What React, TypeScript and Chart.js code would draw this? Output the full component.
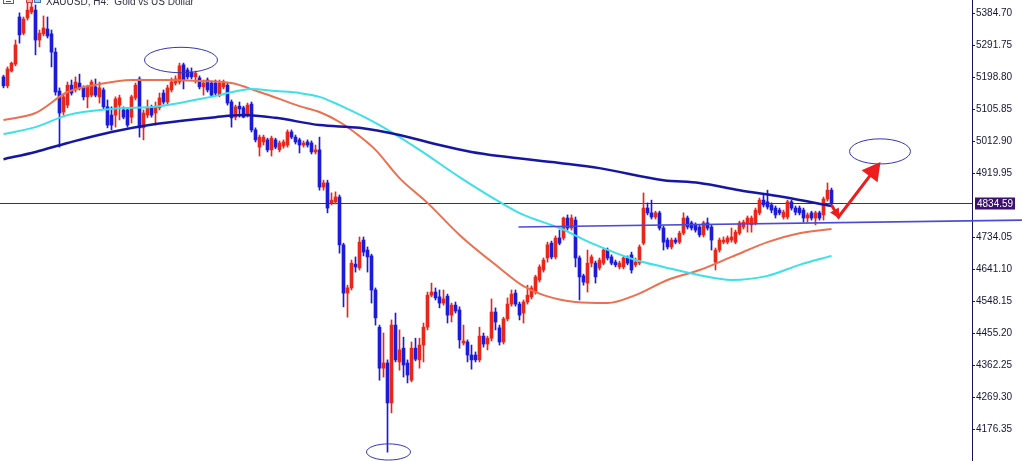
import React, { useEffect, useRef } from "react";
import { Chart, registerables } from "chart.js";

Chart.register(...registerables);

// ---- Candles (XAUUSD H4), one per bar ----
const opens = [
  5200,5174,5217,5237,5374,5327,5371,5388,5394,5307,
  5325,5339,5325,5272,5159,5098,5118,5176,5162,5182,
  5168,5142,5147,5171,5142,5162,5113,5089,5089,5118,
  5104,5104,5083,5139,5194,5052,5089,5110,5095,5110,
  5153,5127,5162,5182,5185,5235,5220,5214,5200,5197,
  5171,5191,5182,5182,5147,5171,5176,5127,5083,5115,
  5110,5089,5121,5046,4996,5011,5017,4988,5017,4988,
  4999,5002,5040,5025,5017,5002,5011,5008,4982,4988,
  4880,4892,4834,4837,4851,4712,4572,4587,4656,4645,
  4726,4697,4680,4581,4473,4354,4369,4253,4479,4372,
  4412,4369,4319,4412,4378,4421,4473,4566,4575,4561,
  4543,4563,4508,4537,4523,4427,4430,4392,4392,4378,
  4447,4424,4441,4517,4471,4430,4497,4540,4572,4540,
  4514,4546,4561,4575,4610,4639,4674,4717,4677,4732,
  4732,4790,4761,4784,4674,4622,4601,4659,4659,4645,
  4659,4697,4677,4662,4648,4648,4674,4683,4654,4659,
  4717,4819,4805,4793,4805,4761,4726,4706,4726,4720,
  4746,4790,4776,4770,4764,4741,4776,4764,4662,4697,
  4720,4720,4726,4720,4746,4764,4776,4770,4776,4805,
  4842,4837,4828,4819,4813,4793,4793,4837,4819,4819,
  4813,4790,4805,4790,4805,4799,4845,4871
];
const highs = [
  5205,5229,5243,5307,5386,5374,5415,5423,5409,5336,
  5377,5374,5336,5284,5168,5150,5185,5191,5200,5208,
  5174,5176,5191,5194,5185,5168,5133,5113,5142,5147,
  5113,5110,5147,5182,5200,5104,5133,5118,5127,5153,
  5162,5176,5197,5203,5240,5240,5226,5226,5217,5203,
  5191,5197,5188,5191,5191,5191,5182,5133,5118,5127,
  5115,5124,5127,5052,5031,5031,5022,5028,5022,5014,
  5017,5046,5046,5031,5022,5014,5017,5014,5002,5025,
  4900,4900,4863,4866,4857,4717,4595,4668,4677,4735,
  4735,4706,4685,4587,4479,4456,4378,4494,4514,4465,
  4444,4378,4430,4441,4441,4485,4575,4601,4587,4581,
  4581,4569,4543,4546,4532,4479,4436,4421,4401,4473,
  4456,4447,4555,4529,4479,4502,4558,4581,4581,4546,
  4552,4595,4593,4624,4654,4674,4720,4723,4738,4755,
  4793,4799,4799,4793,4680,4627,4697,4683,4665,4674,
  4703,4703,4683,4668,4665,4680,4680,4691,4674,4712,
  4863,4834,4842,4810,4810,4767,4732,4732,4732,4752,
  4805,4796,4781,4776,4770,4781,4790,4770,4703,4732,
  4735,4738,4761,4755,4781,4784,4796,4796,4819,4848,
  4857,4871,4834,4825,4819,4813,4842,4842,4825,4825,
  4819,4805,4810,4810,4810,4851,4892,4877
];
const lows = [
  5168,5168,5214,5232,5298,5322,5365,5383,5264,5287,
  5319,5313,5229,5147,4996,5089,5110,5147,5156,5162,
  5133,5110,5142,5142,5124,5107,5052,5046,5054,5075,
  5078,5054,5066,5133,5025,5017,5081,5083,5060,5104,
  5121,5121,5156,5176,5179,5165,5194,5194,5182,5165,
  5147,5156,5142,5147,5142,5165,5118,5054,5075,5083,
  5081,5083,5040,5011,4970,5002,4982,4970,4991,4982,
  4993,4996,5020,5005,4979,4996,4996,4976,4976,4871,
  4871,4805,4828,4831,4688,4532,4502,4581,4633,4639,
  4680,4633,4543,4479,4319,4328,4110,4224,4372,4348,
  4328,4311,4314,4375,4354,4372,4465,4561,4552,4529,
  4537,4485,4488,4514,4412,4421,4372,4351,4372,4372,
  4415,4407,4433,4465,4421,4424,4491,4534,4534,4494,
  4485,4540,4555,4569,4604,4633,4662,4671,4671,4712,
  4726,4755,4755,4648,4552,4595,4575,4648,4601,4639,
  4654,4668,4654,4648,4642,4642,4654,4630,4648,4654,
  4712,4799,4787,4787,4755,4697,4700,4700,4715,4715,
  4741,4758,4755,4749,4735,4735,4755,4697,4639,4691,
  4715,4715,4720,4715,4741,4758,4749,4749,4770,4799,
  4822,4816,4805,4790,4799,4787,4787,4813,4799,4799,
  4778,4778,4784,4770,4784,4784,4839,4828
];
const closes = [
  5174,5223,5240,5293,5322,5368,5394,5403,5307,5327,
  5342,5319,5272,5156,5095,5142,5176,5153,5185,5168,
  5142,5171,5185,5147,5168,5113,5060,5060,5136,5139,
  5083,5060,5142,5176,5052,5095,5110,5089,5113,5139,
  5127,5168,5185,5194,5232,5191,5200,5200,5211,5171,
  5182,5162,5147,5153,5182,5185,5124,5081,5113,5107,
  5083,5118,5046,5017,5025,5025,4988,5022,4996,5008,
  5011,5040,5025,5011,5002,5008,5002,4982,4988,4880,
  4892,4819,4842,4851,4712,4572,4587,4659,4648,4720,
  4691,4677,4581,4500,4354,4369,4253,4479,4378,4407,
  4363,4334,4412,4380,4421,4473,4566,4575,4558,4543,
  4555,4508,4537,4520,4436,4433,4392,4378,4378,4447,
  4424,4441,4517,4488,4430,4497,4540,4569,4540,4508,
  4546,4566,4587,4619,4648,4668,4712,4677,4732,4717,
  4790,4761,4790,4674,4619,4604,4659,4677,4619,4668,
  4697,4674,4659,4654,4659,4674,4659,4639,4662,4706,
  4819,4805,4793,4805,4761,4720,4706,4726,4720,4746,
  4790,4764,4761,4755,4741,4776,4761,4726,4697,4726,
  4726,4732,4735,4749,4776,4778,4790,4790,4813,4842,
  4828,4822,4813,4799,4805,4807,4837,4819,4807,4805,
  4790,4799,4790,4805,4790,4845,4871,4834.59
];

// ---- Moving averages (read at selected bars) ----
const orangeIdx = [0,8,16,24,32,41,49,57,64,69,74,79,84,89,93,99,106,114,124,130,135,143,151,158,166,174,182,191,199,207];
const orangeVal = [5075,5095,5156,5179,5191,5191,5188,5182,5156,5136,5115,5098,5069,5028,4988,4906,4834,4741,4645,4592,4566,4546,4543,4566,4610,4639,4677,4720,4746,4758];
const cyanIdx = [0,8,16,27,39,54,62,68,74,79,84,94,104,114,124,130,139,147,158,165,174,182,191,199,207];
const cyanVal = [5034,5054,5089,5107,5115,5147,5165,5159,5153,5142,5118,5060,4988,4909,4837,4799,4761,4717,4668,4648,4624,4610,4622,4654,4680];
const navyIdx = [0,8,16,27,38,53,60,68,79,89,99,109,117,124,139,149,165,174,184,195,207];
const navyVal = [4961,4982,5008,5040,5063,5083,5089,5081,5060,5052,5031,5002,4982,4970,4950,4935,4900,4892,4871,4851,4825];

// ---- Axis ----
const yTicks = [5384.70,5291.75,5198.80,5105.85,5012.90,4919.95,4734.05,4641.10,4548.15,4455.20,4362.25,4269.30,4176.35];
const yMin = 4084.26;
const yMax = 5423.33;
const xMin = -0.875;
const xMax = 242.125;
const currentPrice = 4834.59;
const titleText = "XAUUSD, H4:  Gold vs US Dollar";

// ---- Annotations (bar index, price) ----
const trendIdx = [128.75, 254.6];
const trendVal = [4764, 4784];
const ellipseIdx = [[35.25, 53.5], [211.5, 226.75], [90.75, 101.75]];
const ellipseVal = [[5286, 5212], [5020, 4947], [4134, 4087]];
const arrowIdx = [207, 208.75, 219.25];
const arrowVal = [4828, 4793, 4953];

const RED = "#e8261a";
const BLUE = "#1c1cd8";

const overlay = {
  id: "overlay",
  beforeDatasetsDraw(chart: any) {
    const { ctx, chartArea, scales } = chart;
    const y = scales.y;
    const py = Math.round(y.getPixelForValue(currentPrice)) + 0.5;
    ctx.save();
    ctx.strokeStyle = "#4a2188";
    ctx.lineWidth = 1;
    ctx.beginPath();
    ctx.moveTo(chartArea.left, py);
    ctx.lineTo(chartArea.right, py);
    ctx.stroke();
    ctx.restore();
  },
  afterDraw(chart: any) {
    const { ctx, chartArea, scales } = chart;
    const x = scales.x;
    const y = scales.y;
    const px = (v: number) => x.getPixelForValue(v);
    const py = (v: number) => y.getPixelForValue(v);
    ctx.save();

    // trend line
    ctx.strokeStyle = "#4a4ad8";
    ctx.lineWidth = 1.6;
    ctx.beginPath();
    ctx.moveTo(px(trendIdx[0]), py(trendVal[0]));
    ctx.lineTo(px(trendIdx[1]), py(trendVal[1]));
    ctx.stroke();

    // ellipses
    ctx.strokeStyle = "#3434b8";
    ctx.lineWidth = 1;
    for (let k = 0; k < ellipseIdx.length; k++) {
      const x0 = px(ellipseIdx[k][0]), x1 = px(ellipseIdx[k][1]);
      const y0 = py(ellipseVal[k][0]), y1 = py(ellipseVal[k][1]);
      ctx.beginPath();
      ctx.ellipse((x0 + x1) / 2, (y0 + y1) / 2, Math.abs(x1 - x0) / 2, Math.abs(y1 - y0) / 2, 0, 0, Math.PI * 2);
      ctx.stroke();
    }

    // red arrow
    const pts = arrowIdx.map((v, k) => [px(v), py(arrowVal[k])]);
    ctx.strokeStyle = "#ee1c1c";
    ctx.fillStyle = "#ee1c1c";
    ctx.lineWidth = 3;
    ctx.lineJoin = "miter";
    const tip = pts[2];
    const base = pts[1];
    const dx = tip[0] - base[0], dy = tip[1] - base[1];
    const len = Math.hypot(dx, dy);
    const ux = dx / len, uy = dy / len;
    const headL = 18, headW = 10;
    const neck = [tip[0] - ux * headL, tip[1] - uy * headL];
    ctx.beginPath();
    ctx.moveTo(pts[0][0], pts[0][1]);
    ctx.lineTo(pts[1][0], pts[1][1]);
    ctx.lineTo(neck[0] + ux * 2, neck[1] + uy * 2);
    ctx.stroke();
    ctx.beginPath();
    ctx.moveTo(tip[0], tip[1]);
    ctx.lineTo(neck[0] - uy * headW, neck[1] + ux * headW);
    ctx.lineTo(neck[0] + uy * headW, neck[1] - ux * headW);
    ctx.closePath();
    ctx.fill();
    // small head at the turning point
    const ddx = pts[1][0] - pts[0][0], ddy = pts[1][1] - pts[0][1];
    const l2 = Math.hypot(ddx, ddy);
    const vx = ddx / l2, vy = ddy / l2;
    const n2 = [pts[1][0] - vx * 8, pts[1][1] - vy * 8];
    ctx.beginPath();
    ctx.moveTo(pts[1][0] + vx * 2, pts[1][1] + vy * 2);
    ctx.lineTo(n2[0] - vy * 5, n2[1] + vx * 5);
    ctx.lineTo(n2[0] + vy * 5, n2[1] - vx * 5);
    ctx.closePath();
    ctx.fill();

    // current price box
    const cy = Math.round(py(currentPrice)) + 0.5;
    const bx = chartArea.right + 3;
    ctx.fillStyle = "#3c1070";
    ctx.fillRect(bx, cy - 6, 40, 12);
    ctx.fillStyle = "#ffffff";
    ctx.font = '10px "Liberation Sans"';
    ctx.textAlign = "left";
    ctx.textBaseline = "middle";
    ctx.fillText(currentPrice.toFixed(2), bx + 2, cy + 0.5);

    // header icons + title (cut at top edge)
    ctx.lineWidth = 1;
    ctx.strokeStyle = "#c03838";
    ctx.strokeRect(3.5, -6.5, 10, 10);
    ctx.strokeStyle = "#3050c0";
    ctx.beginPath();
    ctx.moveTo(6, 1.5); ctx.lineTo(11, 1.5);
    ctx.stroke();
    ctx.fillStyle = "#f4b0a0";
    ctx.fillRect(26, -4, 6, 7);
    ctx.strokeStyle = "#d04040";
    ctx.strokeRect(26.5, -4.5, 6, 7);
    ctx.fillStyle = "#a8d0f4";
    ctx.fillRect(34, -4, 6, 7);
    ctx.strokeStyle = "#4070c0";
    ctx.strokeRect(34.5, -4.5, 6, 7);
    ctx.fillStyle = "#303040";
    ctx.font = '10px "Liberation Sans"';
    ctx.textBaseline = "alphabetic";
    ctx.fillText(titleText, 46, 4.5);

    ctx.restore();
  },
};

export default function App() {
  const ref = useRef<HTMLCanvasElement>(null);
  useEffect(() => {
    const canvas = ref.current;
    if (!canvas) return;
    const colors = opens.map((o, i) => (closes[i] >= o ? RED : BLUE));
    const bodyData = opens.map((o, i) => ({ x: i, y: [o, closes[i]] }));
    const wickData = lows.map((l, i) => ({ x: i, y: [l, highs[i]] }));
    const toPts = (idx: number[], val: number[]) => idx.map((v, k) => ({ x: v, y: val[k] }));
    const lineBase = { pointRadius: 0, cubicInterpolationMode: "monotone", fill: false, order: 0 };
    const chart = new Chart(canvas, {
      type: "bar",
      data: {
        datasets: [
          { type: "line", data: toPts(navyIdx, navyVal), borderColor: "#1616a4", borderWidth: 2.5, ...lineBase } as any,
          { type: "line", data: toPts(cyanIdx, cyanVal), borderColor: "#3ce0ea", borderWidth: 2, ...lineBase } as any,
          { type: "line", data: toPts(orangeIdx, orangeVal), borderColor: "#ec7050", borderWidth: 2, ...lineBase } as any,
          { type: "bar", data: bodyData, backgroundColor: colors, barThickness: 3, grouped: false, minBarLength: 1, order: 1 } as any,
          { type: "bar", data: wickData, backgroundColor: colors, barThickness: 1, grouped: false, order: 2 } as any,
        ],
      },
      options: {
        responsive: false,
        animation: false,
        devicePixelRatio: 1,
        events: [],
        layout: { padding: 0 },
        plugins: { legend: { display: false }, tooltip: { enabled: false }, title: { display: false } },
        scales: {
          x: { type: "linear", min: xMin, max: xMax, display: false, offset: false, bounds: "data", grid: { display: false } },
          y: {
            type: "linear",
            position: "right",
            min: yMin,
            max: yMax,
            bounds: "data",
            afterBuildTicks: (s: any) => { s.ticks = yTicks.map((v) => ({ value: v })); },
            afterFit: (s: any) => { s.width = 50; s.paddingTop = 0; s.paddingBottom = 0; },
            ticks: {
              autoSkip: false,
              padding: 1,
              color: "#14143a",
              font: { family: "Liberation Sans", size: 10 },
              callback: (v: any) => Number(v).toFixed(2),
            },
            grid: { display: true, drawOnChartArea: false, drawTicks: true, tickLength: 3, color: "#14145a" },
            border: { display: true, color: "#14145a", width: 1 },
          },
        },
      } as any,
      plugins: [overlay],
    });
    return () => chart.destroy();
  }, []);
  return (
    <div style={{ position: "fixed", left: 0, top: 0, width: 1022, height: 461, background: "#ffffff" }}>
      <canvas ref={ref} width={1022} height={461} />
    </div>
  );
}
